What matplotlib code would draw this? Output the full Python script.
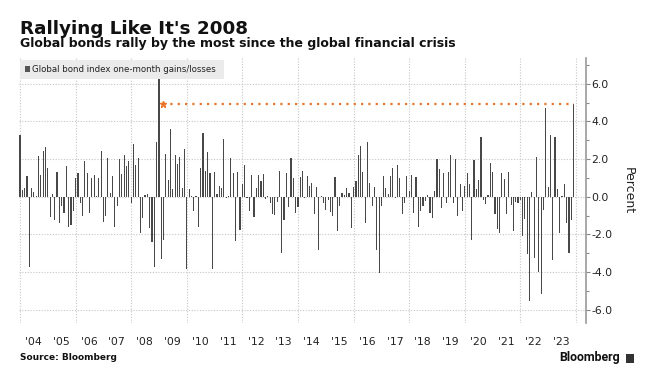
import matplotlib
matplotlib.use('Agg')
import matplotlib.pyplot as plt
import matplotlib.ticker as mticker
import pandas as pd
from matplotlib.patches import Rectangle

plt.rcParams['axes.unicode_minus'] = False

# ---------------- data ----------------
start_month = '2003-12-31'   # first bar: Dec 2003 (month-end)
values = [
    3.28, 0.35, 0.48, 1.10, -3.72, 0.48, 0.27, 0.05, 2.16, 1.15,
    2.43, 2.64, 1.54, -1.06, 0.14, -1.24, 1.33, -1.38, -0.50, -0.85,
    1.63, -1.60, -1.52, -0.74, 0.98, 1.28, -0.35, -1.03, 1.91, 1.28,
    -0.85, 0.98, 1.15, 0.05, 0.98, 2.43, -1.33, -1.03, 2.04, 0.21,
    1.10, -1.60, -0.50, 2.00, 1.21, 2.22, 1.63, 1.91, -0.32, 2.80,
    1.68, 2.04, -1.95, -1.12, 0.07, 0.12, -1.68, -2.39, -3.72, 2.93,
    6.24, -3.32, -2.30, 2.27, 0.89, 3.58, 0.41, 2.22, 1.74, 2.09,
    0.48, 2.54, -3.85, 0.41, 0.04, -0.76, 0.02, -1.60, 1.54, 3.40,
    1.38, 2.36, 1.28, -3.87, 1.33, 0.14, 0.57, 0.48, 3.07, -0.05,
    0.04, 2.07, 1.28, -2.34, 1.33, -1.77, 0.66, 1.68, -0.09, -0.74,
    1.15, -1.06, 0.48, 1.15, 0.83, 1.21, -0.14, 0.02, -0.35, -0.92,
    -0.98, -0.27, 1.38, -3.01, -1.24, 1.24, -0.53, 2.04, 0.98, -0.85,
    -0.57, 1.03, 1.38, -0.05, 1.10, 0.57, 0.71, -0.92, 0.53, -2.84,
    0.02, -0.35, -0.71, -0.18, -0.80, -1.01, 1.06, -1.81, -0.50, 0.18,
    0.09, 0.48, 0.21, -1.68, 0.53, 0.85, 2.22, 2.70, 1.33, -1.38,
    2.93, 0.75, -0.50, 0.53, -2.84, -4.08, -0.50, 1.10, 0.48, 0.12,
    1.10, 1.54, -0.05, 1.68, 0.98, -0.94, -0.35, 1.10, 0.32, 1.15,
    -0.89, 1.06, -1.60, -0.74, -0.48, -0.23, 0.09, -0.85, -1.15, 0.32,
    2.00, 1.49, -0.58, 1.28, -0.32, 1.33, 2.22, -0.32, 2.00, -1.03,
    0.66, -0.74, 0.57, 1.28, 0.66, -2.30, 1.95, 0.41, 0.89, 3.19,
    -0.18, -0.39, 0.09, 1.81, 1.33, -0.92, -1.74, -1.95, 1.24, 0.92,
    -0.92, 1.33, -0.44, -1.81, -0.27, -0.32, -0.18, -2.07, -1.21, -3.07,
    -5.53, 0.27, -3.25, 2.09, -3.99, -5.18, -0.71, 4.70, 0.53, 3.28,
    -3.37, 3.19, 0.41, -1.95, 0.02, 0.67, -1.38, -2.98, -1.24, 4.91,
]
year_labels = ["'%02d" % (y % 100) for y in range(2004, 2024)]
label_years = list(range(2004, 2024))
grid_years = list(range(2004, 2025, 2))
y_ticks = [-6, -4, -2, 0, 2, 4, 6]
ref_line_start = '2009-02-20'   # dotted reference line begins just after the Dec 2008 peak

title = "Rallying Like It's 2008"
subtitle = "Global bonds rally by the most since the global financial crisis"
legend_label = "Global bond index one-month gains/losses"
source = "Source: Bloomberg"

# ---------------- figure ----------------
W, H = 652, 376
fig = plt.figure(figsize=(W / 100, H / 100), dpi=100)

def fx(px):
    return px / W

def fy(py):
    return 1 - py / H

ax_l, ax_r, ax_t, ax_b = 18.5, 586.0, 58.3, 322.7
ax = fig.add_axes([fx(ax_l), fy(ax_b), (ax_r - ax_l) / W, (ax_b - ax_t) / H])

dates = pd.date_range(start_month, periods=len(values), freq='ME')
bar_color = '#484848'
ax.bar(dates, values, width=15, color=bar_color, zorder=3, linewidth=0)

orange = '#E8762D'
ax.plot([pd.Timestamp(ref_line_start), dates[-1]], [values[-1], values[-1]],
        color=orange, lw=1.6, linestyle=(0, (1, 2.3)), zorder=4)
ax.plot([pd.Timestamp(ref_line_start)], [values[-1]], marker='*', ms=5,
        color=orange, mec=orange, zorder=4, lw=0)

ax.set_xlim(pd.Timestamp('2003-12-11'), pd.Timestamp('2024-05-11'))
ax.set_ylim(-6.7, 7.36)

# x ticks: labels at mid-year, gridlines at every second January
ax.set_xticks(pd.to_datetime(['%d-06-25' % y for y in label_years]))
ax.set_xticklabels(year_labels)
ax.set_xticks(pd.to_datetime(['%d-01-01' % y for y in grid_years]), minor=True)
ax.tick_params(axis='x', which='both', length=0, pad=10, labelsize=7.8,
               labelcolor='#222222')
ax.grid(which='minor', axis='x', color='#c6c6c6', lw=0.8, linestyle=(0, (1, 1.5)))

# y axis on right
ax.yaxis.tick_right()
ax.yaxis.set_label_position('right')
ax.set_yticks(y_ticks)
ax.yaxis.set_major_formatter(mticker.FormatStrFormatter('%.1f'))
ax.yaxis.set_minor_locator(mticker.MultipleLocator(1))
ax.tick_params(axis='y', which='major', length=3, width=0.8, color='#888888',
               pad=1, labelsize=7.8, labelcolor='#222222', direction='out')
ax.tick_params(axis='y', which='minor', length=2.5, width=0.8, color='#888888',
               direction='out')
ax.grid(which='major', axis='y', color='#c6c6c6', lw=0.8, linestyle=(0, (1, 1.5)))
ax.set_axisbelow(True)

for s in ['top', 'left', 'bottom']:
    ax.spines[s].set_visible(False)
ax.spines['right'].set_color('#999999')
ax.spines['right'].set_linewidth(1.2)

fig.text(fx(628), fy(191), 'Percent', rotation=270, ha='center', va='center',
         fontsize=9, color='#222222')

# legend box
ax.add_patch(Rectangle((fx(20), fy(79)), 204 / W, 19 / H, transform=fig.transFigure,
                       facecolor='#ebebeb', edgecolor='none', clip_on=False, zorder=2))
ax.add_patch(Rectangle((fx(24.5), fy(71.5)), 5 / W, 5.5 / H, transform=fig.transFigure,
                       facecolor='#555555', edgecolor='none', clip_on=False, zorder=2.1))
leg_t = fig.text(fx(32.5), fy(69.3), legend_label, ha='left', va='center',
                 fontsize=6.5, color='#222222')

# titles
t1 = fig.text(fx(20), fy(33.5), title, ha='left', va='baseline', fontsize=13,
              fontweight='bold', color='#111111')
t2 = fig.text(fx(20), fy(47.5), subtitle, ha='left', va='baseline', fontsize=8,
              fontweight='bold', color='#111111')
t3 = fig.text(fx(20), fy(359.5), source, ha='left', va='baseline', fontsize=6.5,
              fontweight='bold', color='#111111')
t4 = fig.text(fx(559), fy(361.5), 'Bloomberg', ha='left', va='baseline', fontsize=8.5,
              fontweight='bold', color='#111111', family='Roboto')

# Bloomberg logo square
fig.patches.append(Rectangle((fx(626), fy(363)), 8 / W, 9 / H, transform=fig.transFigure,
                             facecolor='#333333', edgecolor='none'))

renderer = fig.canvas.get_renderer()
for t, w in [(t1, 227), (t2, 439), (t3, 97), (t4, 61), (leg_t, 185)]:
    bb = t.get_window_extent(renderer)
    t.set_fontsize(t.get_fontsize() * w / bb.width)

fig.savefig('out.png', dpi=100)
